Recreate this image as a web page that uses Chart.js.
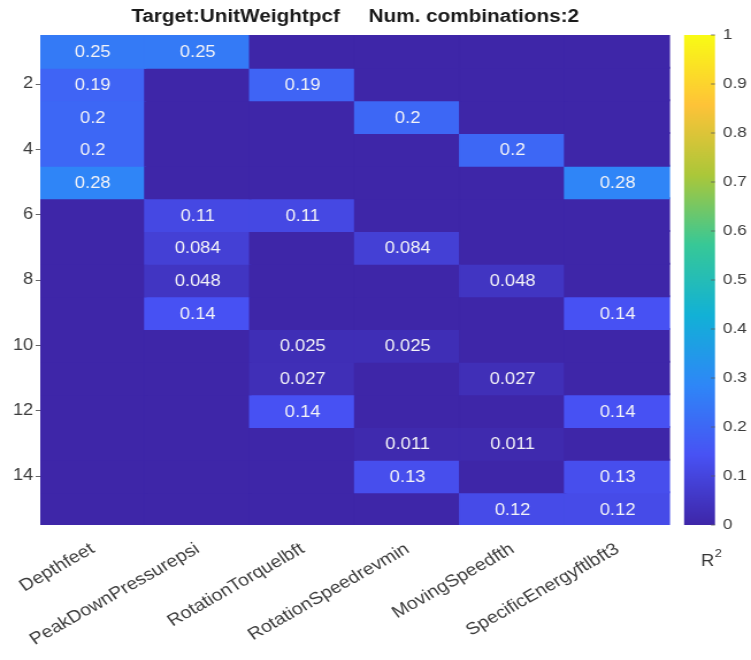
<!DOCTYPE html>
<html>
<head>
<meta charset="utf-8">
<script src="https://cdn.jsdelivr.net/npm/chart.js@4/dist/chart.umd.min.js"></script>
<style>
  html, body { margin: 0; padding: 0; background: #ffffff; }
  canvas { display: block; }
</style>
</head>
<body>
<canvas id="c" width="653" height="660" style="width:751px;height:660px;"></canvas>
<script>
// ---------------- data ----------------
const chartTitle = 'Target:UnitWeightpcf     Num. combinations:2';
const columns = ['Depthfeet', 'PeakDownPressurepsi', 'RotationTorquelbft',
                 'RotationSpeedrevmin', 'MovingSpeedfth', 'SpecificEnergyftlbft3'];
const rowLabels = ['1','2','3','4','5','6','7','8','9','10','11','12','13','14','15'];
const yTickLabels = ['2','4','6','8','10','12','14'];

const depthfeet           = [0.25, 0.19, 0.2, 0.2, 0.28, null, null, null, null, null, null, null, null, null, null];
const peakDownPressurepsi = [0.25, null, null, null, null, 0.11, 0.084, 0.048, 0.14, null, null, null, null, null, null];
const rotationTorquelbft  = [null, 0.19, null, null, null, 0.11, null, null, null, 0.025, 0.027, 0.14, null, null, null];
const rotationSpeedrevmin = [null, null, 0.2, null, null, null, 0.084, null, null, 0.025, null, null, 0.011, 0.13, null];
const movingSpeedfth      = [null, null, null, 0.2, null, null, null, 0.048, null, null, 0.027, null, 0.011, null, 0.12];
const specificEnergy      = [null, null, null, null, 0.28, null, null, null, 0.14, null, null, 0.14, null, 0.13, 0.12];

const colorbarTicks = [0, 0.1, 0.2, 0.3, 0.4, 0.5, 0.6, 0.7, 0.8, 0.9, 1];
const colorbarLabel = 'R';
const colorbarLabelSup = '2';

// matrix[column][row]
const matrix = [depthfeet, peakDownPressurepsi, rotationTorquelbft,
                rotationSpeedrevmin, movingSpeedfth, specificEnergy];

// ---------------- colormap (parula) ----------------
const PARULA = [
  [0.2422, 0.1504, 0.6603],
  [0.2810, 0.3228, 0.9578],
  [0.1786, 0.5289, 0.9682],
  [0.0689, 0.6948, 0.8394],
  [0.2161, 0.7843, 0.5923],
  [0.6720, 0.7793, 0.2227],
  [0.9970, 0.7659, 0.2199],
  [0.9769, 0.9839, 0.0805]
];
function rgbOf(c) { return 'rgb(' + c.map(a => Math.round(a * 255)).join(',') + ')'; }
function parula(v) {
  if (v == null) v = 0;
  v = Math.min(Math.max(v, 0), 1);
  const t = v * (PARULA.length - 1);
  const i = Math.min(Math.floor(t), PARULA.length - 2);
  const f = t - i;
  return rgbOf(PARULA[i].map((a, k) => a + (PARULA[i + 1][k] - a) * f));
}

// ---------------- layout (internal canvas px) ----------------
const W = 653;
const PLOT_LEFT = 35, PLOT_TOP = 35, PLOT_BOTTOM = 525, PLOT_RIGHT = 582.6;
const CB_LEFT = 594.8, CB_RIGHT = 621.7;
const FONT = '"Liberation Sans", Arial, Helvetica, sans-serif';
Chart.defaults.font.family = FONT;

const heatPlugin = {
  id: 'heatExtras',
  afterDatasetsDraw(chart) {
    const ctx = chart.ctx;
    ctx.save();
    // cell labels
    ctx.font = '16px ' + FONT;
    ctx.fillStyle = '#f4f4f8';
    ctx.textAlign = 'center';
    ctx.textBaseline = 'middle';
    chart.data.datasets.forEach((ds, r) => {
      const meta = chart.getDatasetMeta(r);
      meta.data.forEach((bar, c) => {
        const v = matrix[c][r];
        if (v == null) return;
        const p = bar.getProps(['x', 'y', 'base'], true);
        ctx.fillText(String(v), p.x, (p.y + p.base) / 2 + 1.5);
      });
    });
    // colorbar
    const cb = chart.scales.cb;
    const g = ctx.createLinearGradient(0, cb.getPixelForValue(0), 0, cb.getPixelForValue(1));
    PARULA.forEach((c, k) => g.addColorStop(k / (PARULA.length - 1), rgbOf(c)));
    ctx.fillStyle = g;
    ctx.fillRect(CB_LEFT, cb.top, CB_RIGHT - CB_LEFT, cb.bottom - cb.top);
    ctx.strokeStyle = 'rgba(90,90,90,0.8)';
    ctx.lineWidth = 1;
    colorbarTicks.forEach(t => {
      const y = cb.getPixelForValue(t);
      ctx.beginPath();
      ctx.moveTo(CB_RIGHT - 3.5, y);
      ctx.lineTo(CB_RIGHT, y);
      ctx.stroke();
    });
    // colorbar label R^2
    ctx.fillStyle = '#333333';
    ctx.textAlign = 'left';
    ctx.textBaseline = 'alphabetic';
    ctx.font = '16px ' + FONT;
    ctx.fillText(colorbarLabel, 609.5, 566);
    const rw = ctx.measureText(colorbarLabel).width;
    ctx.font = '11px ' + FONT;
    ctx.fillText(colorbarLabelSup, 609.5 + rw + 0.5, 557);
    ctx.restore();
  }
};

const datasets = rowLabels.map((lab, r) => ({
  label: lab,
  data: columns.map(() => 1),
  backgroundColor: (ctx) => parula(matrix[ctx.dataIndex][r]),
  borderWidth: 0,
  inflateAmount: 1,
  barPercentage: 1,
  categoryPercentage: 1
}));

new Chart(document.getElementById('c'), {
  type: 'bar',
  data: { labels: columns, datasets },
  plugins: [heatPlugin],
  options: {
    responsive: false,
    animation: false,
    layout: { padding: { top: 0, left: 0, right: 0, bottom: 0 } },
    plugins: {
      legend: { display: false },
      tooltip: { enabled: false },
      title: {
        display: true,
        text: chartTitle,
        fullSize: false,
        color: '#1a1a1a',
        font: { family: FONT, size: 18, weight: 'bold', lineHeight: 1.2 },
        padding: { top: 6, bottom: 7.4 }
      }
    },
    scales: {
      x: {
        type: 'category',
        stacked: true,
        grid: { display: false, drawTicks: false },
        border: { display: false },
        ticks: {
          autoSkip: false, minRotation: 33, maxRotation: 33, padding: 14,
          color: '#3c3c3c', font: { family: FONT, size: 17 }
        },
        afterFit(s) { s.height = 660 - PLOT_BOTTOM; s.paddingLeft = 0; s.paddingRight = 0; }
      },
      y: {
        type: 'linear',
        stacked: true,
        reverse: true,
        min: 0,
        max: rowLabels.length,
        grid: { drawOnChartArea: false, drawTicks: true, tickLength: 4, color: '#666666' },
        border: { display: false },
        ticks: {
          padding: 2, color: '#3c3c3c', font: { family: FONT, size: 16 },
          callback: (v) => rowLabels[Math.round(v - 0.5)]
        },
        afterBuildTicks(s) {
          s.ticks = yTickLabels.map(l => ({ value: rowLabels.indexOf(l) + 0.5 }));
        },
        afterFit(s) { s.width = PLOT_LEFT; s.paddingTop = 0; s.paddingBottom = 0; }
      },
      cb: {
        axis: 'y',
        type: 'linear',
        position: 'right',
        min: 0,
        max: 1,
        grid: { drawOnChartArea: false, drawTicks: true, tickLength: 43, color: 'rgba(0,0,0,0)' },
        border: { display: false },
        ticks: {
          stepSize: 0.1, padding: 3, color: '#3c3c3c', font: { family: FONT, size: 15 },
          callback: (v) => String(+Number(v).toFixed(1))
        },
        afterBuildTicks(s) { s.ticks = colorbarTicks.map(v => ({ value: v })); },
        afterFit(s) { s.width = W - PLOT_RIGHT; s.paddingTop = 0; s.paddingBottom = 0; }
      }
    }
  }
});
</script>
</body>
</html>
